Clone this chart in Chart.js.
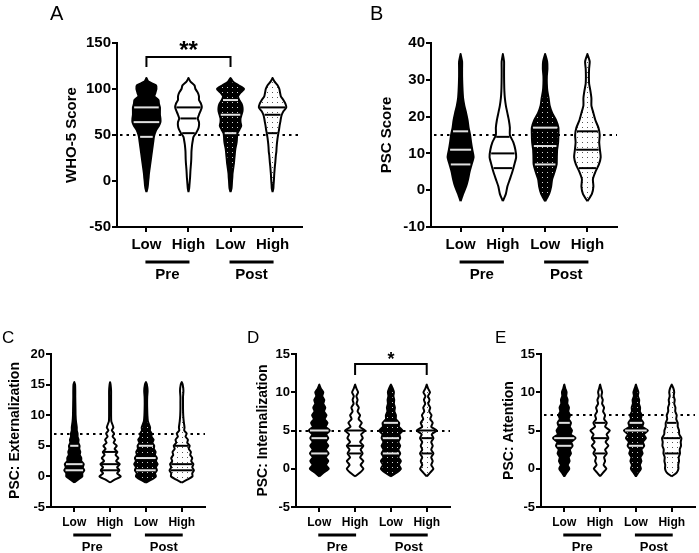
<!DOCTYPE html>
<html><head><meta charset="utf-8">
<script src="https://cdn.jsdelivr.net/npm/chart.js@4.4.0/dist/chart.umd.min.js"></script>
<style>
html,body{margin:0;padding:0;background:#fff}
body{width:699px;height:553px;position:relative;overflow:hidden}
canvas{position:absolute}
</style></head>
<body>
<script>
// ---------- DATA ----------
const categories = ['Low', 'High', 'Low', 'High'];
const phases = ['Pre', 'Post'];

// A: WHO-5 (violin half-widths read at each level)
const whoLevels   = [-12,-8,-4,0,4,8,12,16,20,24,28,32,36,40,44,48,52,56,60,64,68,72,76,80,84,88,92,96,100,104,108,112];
const whoLowPre   = [0,1,1.5,1.8,2.2,2.5,3,3.5,4,4.5,5,5.5,6,6.5,7,7.5,8.5,10,12.5,14,14,13.5,13.5,13.5,12.5,12,8,9,10,9.5,2,0];
const whoHighPre  = [0,0.7,1,1.3,1.6,1.8,2,2.3,2.6,2.8,2.9,3,3.3,3.7,4.3,5,7.5,9.5,10.5,10.5,9.3,10.5,12,13.3,12.5,10.5,10.5,9.3,7,6,2,0];
const whoLowPost  = [0,1,1.3,1.5,1.8,2,2.5,3,3.5,3.8,4.2,4.5,5,5.8,6.3,6.5,7,9,10.7,10,10,11,12,12,11,8.7,7.5,10,13.5,8,2.5,0];
const whoHighPost = [0,0.8,1,1.3,1.5,1.7,2,2.3,2.7,3,3.3,3.8,4,4.3,4.7,5.2,5.8,6.5,7,7.7,8.3,9.2,11,13.7,12.8,10.8,8.3,7.5,6.8,5,2,0];
const whoQuartiles = [[48,64,80],[52,68,80],[52,72,88],[52,72,80]];
const whoCutoff = 50;
const whoTicks = [-50, 150, 50];
const whoSig = {from: 1, to: 3, y: 135, label: '**'};

// B: PSC score
const pscLevels   = [-3,-1,1,3,5,7,9,11,13,15,17,19,21,23,25,27,29,31,33,35,37];
const pscLowPre   = [0,2.5,5.5,7.5,9,11,13,11.7,10.5,9.5,8,7,5.5,3.7,2.5,2,1.7,1.5,1.5,1.5,0];
const pscHighPre  = [0,3,4.5,7,9.5,11.5,13.3,12.5,10.5,7,7,6,4.5,3,2,1.5,1.3,1.2,1.2,1.2,0];
const pscLowPost  = [0,4,6,7,9.5,11.5,11.7,12,13,13.3,13.3,11,7,4.5,3.5,2.2,1.7,1.7,2.3,2,0];
const pscHighPost = [0,4.5,6,5.5,8,11.5,13.3,12.5,11.8,12.3,11,8,6,4,4,3,1.7,1.5,1.7,2.3,0];
const pscQuartiles = [[7,11,16],[6,10,14.5],[7,12,17],[6,11,16]];
const pscCutoff = 15;
const pscTicks = [-10, 40, 10];

// C: Externalization
const extLevels   = [-1,-0.5,0,0.5,1,1.5,2,2.5,3,3.5,4,4.5,5,5.5,6,6.5,7,7.5,8,9,10,11,12,13,14,15,15.4];
const extLowPre   = [0,4,8,8,10,8.5,9.5,7,7,5.5,6,5,5.3,4,4.3,3.3,3.3,2.5,2.5,1.7,1.3,1.2,1.1,1,1,0.8,0];
const extHighPre  = [0,5,10.7,7,9.3,7,9.7,6,8.3,5.5,7.3,4.5,6.7,3.5,5,2.5,4,1.7,3.3,1.2,1,1,1,1,1,0.5,0];
const extLowPost  = [0,6,10,9,11,10,11.7,10,11,9,9.7,8,8.3,6.5,7.7,5.5,5.8,4,4.2,2,1.5,1.3,1.2,1.3,1.7,1,0];
const extHighPost = [0,6,10.8,10.5,12.2,10.5,11.7,9.5,10.5,8.5,9.2,7,8,5.5,6.2,3.8,5,2.5,2.8,2,1.5,1.3,1.3,1.3,1.7,1,0];
const extQuartiles = [[1,2,5],[1,2,4],[1,3,5],[1,2,5]];
const extCutoff = 7;
const extTicks = [-5, 20, 5];

// D: Internalization
const intLevels   = [-1,-0.5,0,0.5,1,1.5,2,2.5,3,3.5,4,4.5,5,5.5,6,6.5,7,7.5,8,8.5,9,9.5,10,10.5,11];
const intLowPre   = [0,4.5,9.5,6.5,9,6.5,9.3,6.5,9,6.5,9,7,10.5,6.5,8.2,5.5,7.2,4.8,6,4,5,3,4,1.5,0];
const intHighPre  = [0,5,8.3,5.5,8.3,5,7.5,5.5,8.3,5,7.7,6,10,4.5,6.7,3.5,5,2.5,3.7,1.5,2.5,1.3,3,1.3,0];
const intLowPost  = [0,6,10,8,10,7.5,9.3,7.5,9.3,7.5,9.3,8.5,11.7,8,8.3,5,5,3.5,4,3,3.3,2.5,3,1.8,0];
const intHighPost = [0,3.5,6.7,4.5,6,4.5,6.7,4.5,6,4.5,6.7,5,10,4.5,6,3.5,4.8,2.5,3.5,1.5,2.8,1.3,3.3,1.3,0];
const intQuartiles = [[2,4,5],[2,3,5],[2,4,6],[2,4,5]];
const intCutoff = 5;
const intTicks = [-5, 15, 5];
const intSig = {from: 2, to: 4, y: 13.7, label: '*'};

// E: Attention
const attLevels   = [-1,-0.5,0,0.5,1,1.5,2,2.5,3,3.5,4,4.5,5,5.5,6,6.5,7,7.5,8,8.5,9,9.5,10,10.5,11];
const attLowPre   = [0,2.5,5,3.5,5.3,4.5,6.7,5.5,8.3,7,11.3,6.5,7.7,5.5,6.7,4.5,5.7,4,4.7,3,3.3,2,2.3,1,0];
const attHighPre  = [0,3,6.3,3.5,5,4,6.7,5,8.3,5.5,8.3,6.5,9.7,5,6.7,4,5,3,4,2,2.7,1.3,2,1,0];
const attLowPost  = [0,2.5,5,4,5.5,4.5,6.7,5.5,8.3,7,10,8,12,6.5,7.5,5,5.8,4,4.2,3,3.3,2,2.5,1.2,0];
const attHighPost = [0,5,6.7,6.5,7.3,7,8.3,8,9.3,9,9.7,7.5,7.3,6,6,4.5,5,3.5,3.7,2.5,3,2,2.5,1.7,0];
const attQuartiles = [[3,4,6],[2,4,6],[3,5,6],[2,4,6]];
const attCutoff = 7;
const attTicks = [-5, 15, 5];

// ---------- STYLE / LAYOUT ----------
const FONT = "'Liberation Sans', Arial, Helvetica, sans-serif";
Chart.defaults.font.family = FONT;
Chart.defaults.color = '#000';

function makePattern(bg, dot, size) {
  const c = document.createElement('canvas');
  c.width = size; c.height = size;
  const g = c.getContext('2d');
  g.fillStyle = bg; g.fillRect(0, 0, size, size);
  g.fillStyle = dot; g.fillRect(2, 2, 1, 1);
  return g.createPattern(c, 'repeat');
}
const fills = ['#000', '#fff', makePattern('#000', '#d0d0d0', 5), makePattern('#fff', '#555', 5)];
const qColors = ['#e0e0e0', '#000', '#e0e0e0', '#000'];

const panels = [
  {letter:'A', title:'WHO-5 Score', levels:whoLevels, groups:[whoLowPre,whoHighPre,whoLowPost,whoHighPost],
   quart:whoQuartiles, cutoff:whoCutoff, ticks:whoTicks, sig:whoSig,
   box:{x:0,y:0,w:332,h:290}, W:117, pt:43, pr:30, H:60, pb:3, titlePad:63, xr:[0.3,4.7],
   big:true, letterPos:[50,20], barOff:35, lblOff:48},
  {letter:'B', title:'PSC Score', levels:pscLevels, groups:[pscLowPre,pscHighPre,pscLowPost,pscHighPost],
   quart:pscQuartiles, cutoff:pscCutoff, ticks:pscTicks, sig:null,
   box:{x:340,y:0,w:307,h:290}, W:91, pt:43, pr:30, H:60, pb:3, titlePad:38, xr:[0.3,4.7],
   big:true, letterPos:[30,20], barOff:35, lblOff:48},
  {letter:'C', title:'PSC: Externalization', levels:extLevels, groups:[extLowPre,extHighPre,extLowPost,extHighPost],
   quart:extQuartiles, cutoff:extCutoff, ticks:extTicks, sig:null,
   box:{x:0,y:300,w:230,h:253}, W:51, pt:54, pr:25, H:44, pb:2, titlePad:6.6, xr:[0.35,4.65],
   big:false, letterPos:[2,43], barOff:28, lblOff:40},
  {letter:'D', title:'PSC: Internalization', levels:intLevels, groups:[intLowPre,intHighPre,intLowPost,intHighPost],
   quart:intQuartiles, cutoff:intCutoff, ticks:intTicks, sig:intSig,
   box:{x:235,y:300,w:235,h:253}, W:61, pt:54, pr:20, H:44, pb:2, titlePad:19.6, xr:[0.35,4.65],
   big:false, letterPos:[12,43], barOff:28, lblOff:40},
  {letter:'E', title:'PSC: Attention', levels:attLevels, groups:[attLowPre,attHighPre,attLowPost,attHighPost],
   quart:attQuartiles, cutoff:attCutoff, ticks:attTicks, sig:null,
   box:{x:470,y:300,w:229,h:253}, W:71, pt:54, pr:4, H:44, pb:2, titlePad:30.6, xr:[0.35,4.65],
   big:false, letterPos:[25,43], barOff:28, lblOff:40}
];

function outline(levels, widths, center, k) {
  const pts = [];
  for (let i = 0; i < levels.length; i++) pts.push({x: center + widths[i] * k, y: levels[i]});
  for (let i = levels.length - 1; i >= 0; i--) pts.push({x: center - widths[i] * k, y: levels[i]});
  return pts;
}
function halfAt(levels, widths, v) {
  for (let i = 0; i < levels.length - 1; i++) {
    if (v >= levels[i] && v <= levels[i + 1]) {
      const t = (v - levels[i]) / (levels[i + 1] - levels[i]);
      return widths[i] + (widths[i + 1] - widths[i]) * t;
    }
  }
  return 0;
}

const deco = {
  id: 'deco',
  beforeDatasetsDraw(chart, args, o) {
    const {ctx, chartArea: a, scales: {y}} = chart;
    const yy = Math.round(y.getPixelForValue(o.cutoff));
    ctx.save();
    ctx.strokeStyle = '#000'; ctx.lineWidth = 2; ctx.setLineDash([2.5, 4]);
    ctx.beginPath(); ctx.moveTo(a.left + 3, yy); ctx.lineTo(a.right, yy); ctx.stroke();
    ctx.restore();
  },
  afterDraw(chart, args, o) {
    const {ctx, chartArea: a, scales: {x, y}} = chart;
    ctx.save();
    ctx.fillStyle = '#000'; ctx.strokeStyle = '#000';
    ctx.font = 'bold ' + (o.big ? 15 : 13) + 'px ' + FONT;
    ctx.textAlign = 'center'; ctx.textBaseline = 'middle';
    for (let p = 0; p < 2; p++) {
      const x1 = x.getPixelForValue(2 * p + 1) - 1, x2 = x.getPixelForValue(2 * p + 2) + 1;
      ctx.fillRect(x1, a.bottom + o.barOff - 1.5, x2 - x1, 3);
      ctx.fillText(phases[p], (x1 + x2) / 2, a.bottom + o.lblOff);
    }
    if (o.sig && o.sig.label) {
      const xa = x.getPixelForValue(o.sig.from), xb = x.getPixelForValue(o.sig.to);
      const yb = Math.round(y.getPixelForValue(o.sig.y));
      const drop = o.big ? 10 : 11;
      ctx.lineWidth = 2;
      ctx.beginPath();
      ctx.moveTo(xa, yb + drop); ctx.lineTo(xa, yb); ctx.lineTo(xb, yb); ctx.lineTo(xb, yb + drop);
      ctx.stroke();
      ctx.font = 'bold ' + (o.big ? 24 : 18) + 'px ' + FONT;
      ctx.textBaseline = 'alphabetic';
      ctx.fillText(o.sig.label, (xa + xb) / 2, yb + 1);
    }
    ctx.font = (o.big ? 20 : 17) + 'px ' + FONT;
    ctx.textAlign = 'left'; ctx.textBaseline = 'alphabetic';
    ctx.fillText(o.letter, o.letterPos[0], o.letterPos[1]);
    ctx.restore();
  }
};

panels.forEach(P => {
  const cv = document.createElement('canvas');
  cv.width = P.box.w; cv.height = P.box.h;
  cv.style.left = P.box.x + 'px'; cv.style.top = P.box.y + 'px';
  cv.style.width = P.box.w + 'px'; cv.style.height = P.box.h + 'px';
  document.body.appendChild(cv);

  const areaW = P.box.w - P.W - P.pr;
  const k = (P.xr[1] - P.xr[0]) / areaW;   // half-widths were read in pixels
  const datasets = [];
  P.groups.forEach((w, g) => {
    const c = g + 1;
    datasets.push({
      data: outline(P.levels, w, c, k), showLine: true, fill: 'shape',
      backgroundColor: fills[g], borderColor: '#000', borderWidth: 2,
      borderJoinStyle: 'round', pointRadius: 0, pointHoverRadius: 0, tension: 0.2, order: 2, clip: false
    });
    P.quart[g].forEach(q => {
      const h = Math.max(halfAt(P.levels, w, q) - 1.2, 0) * k;
      datasets.push({
        data: [{x: c - h, y: q}, {x: c + h, y: q}], showLine: true, fill: false,
        borderColor: qColors[g], borderWidth: 2, pointRadius: 0, pointHoverRadius: 0, order: 1, clip: false
      });
    });
  });

  const tickFont = {family: FONT, size: P.big ? 15 : 13, weight: 'bold'};
  new Chart(cv, {
    type: 'scatter',
    data: {datasets},
    plugins: [deco],
    options: {
      responsive: false, animation: false, devicePixelRatio: 1,
      layout: {padding: {left: 0, top: P.pt, right: P.pr, bottom: P.pb}},
      plugins: {
        legend: {display: false}, tooltip: {enabled: false},
        deco: {cutoff: P.cutoff, sig: P.sig, big: P.big, letter: P.letter, letterPos: P.letterPos,
               barOff: P.barOff, lblOff: P.lblOff}
      },
      scales: {
        x: {
          type: 'linear', min: P.xr[0], max: P.xr[1],
          afterFit: s => { s.height = P.H; },
          afterBuildTicks: s => { s.ticks = [1, 2, 3, 4].map(v => ({value: v})); },
          ticks: {callback: v => categories[v - 1], font: {family: FONT, size: P.big ? 15 : 12, weight: 'bold'},
                  color: '#000', padding: P.big ? 4 : 3, maxRotation: 0, autoSkip: false},
          grid: {display: true, drawOnChartArea: false, drawTicks: true, tickLength: 5, color: '#000', lineWidth: 2},
          border: {display: true, color: '#000', width: 2}
        },
        y: {
          type: 'linear', min: P.ticks[0], max: P.ticks[1],
          afterFit: s => { s.width = P.W; },
          ticks: {stepSize: P.ticks[2], font: tickFont, color: '#000', padding: 1},
          grid: {display: true, drawOnChartArea: false, drawTicks: true, tickLength: 5, color: '#000', lineWidth: 2},
          border: {display: true, color: '#000', width: 2},
          title: {display: true, text: P.title, color: '#000',
                  font: {family: FONT, size: P.big ? 15 : 14, weight: 'bold'},
                  padding: {top: P.titlePad, bottom: 0}}
        }
      }
    }
  });
});
</script>
</body></html>
